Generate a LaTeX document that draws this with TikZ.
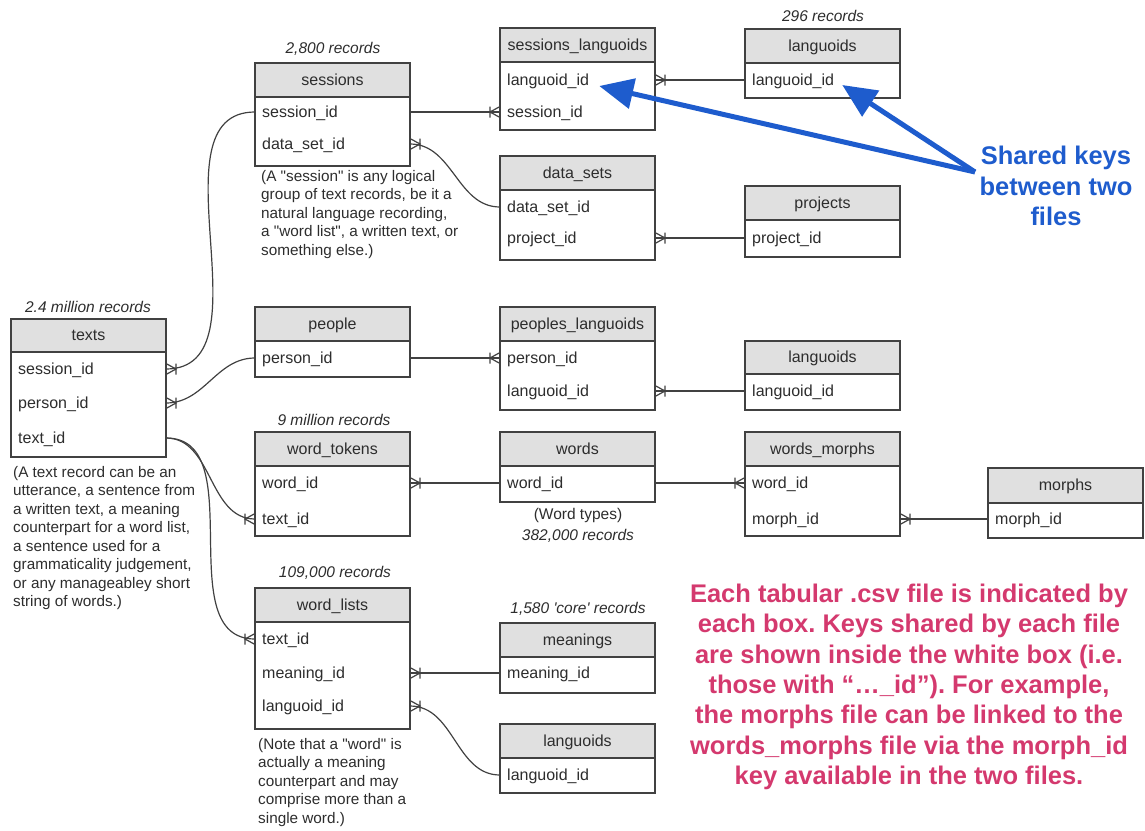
\documentclass[tikz,border=0pt]{standalone}
\usepackage{fontspec}
\setmainfont{Liberation Sans}
\usetikzlibrary{arrows.meta}

\definecolor{hdrgray}{RGB}{224,224,224}
\definecolor{edgecol}{RGB}{65,65,65}
\definecolor{txtcol}{RGB}{45,45,45}
\definecolor{pinktxt}{RGB}{212,57,110}
\definecolor{bluearr}{RGB}{30,92,205}

\pgfdeclarearrow{
  name = Crow,
  defaults = {length = 10pt, width = 11pt, line width = 0pt 1},
  parameters = {\the\pgfarrowlength,\the\pgfarrowwidth,\the\pgfarrowlinewidth},
  setup code = {
    \pgfarrowssettipend{0pt}
    \pgfarrowssetlineend{0pt}
    \pgfarrowssetbackend{-\pgfarrowlength}
    \pgfarrowshullpoint{0pt}{.5\pgfarrowwidth}
    \pgfarrowshullpoint{0pt}{-.5\pgfarrowwidth}
    \pgfarrowshullpoint{-\pgfarrowlength}{.5\pgfarrowwidth}
    \pgfarrowshullpoint{-\pgfarrowlength}{-.5\pgfarrowwidth}
    \pgfarrowssavethe\pgfarrowlength
    \pgfarrowssavethe\pgfarrowwidth
    \pgfarrowssavethe\pgfarrowlinewidth
  },
  drawing code = {
    \pgfsetdash{}{+0pt}
    \pgfsetlinewidth{\pgfarrowlinewidth}
    \pgfpathmoveto{\pgfqpoint{0pt}{.5\pgfarrowwidth}}
    \pgfpathlineto{\pgfqpoint{-\pgfarrowlength}{0pt}}
    \pgfpathlineto{\pgfqpoint{0pt}{-.5\pgfarrowwidth}}
    \pgfpathmoveto{\pgfqpoint{-\pgfarrowlength}{.5\pgfarrowwidth}}
    \pgfpathlineto{\pgfqpoint{-\pgfarrowlength}{-.5\pgfarrowwidth}}
    \pgfusepathqstroke
  }
}

\frenchspacing
\newcommand{\fsz}{\fontsize{16}{18.5}\selectfont}
\newcommand{\fsn}{\fontsize{15.3}{18.5}\selectfont}
\newcommand{\fsr}{\fontsize{15.5}{18.5}\selectfont}
% table: name, x, ytop, header height, body height, title
\newcommand{\tbl}[6]{%
  \node[hdr,minimum height=#4pt,anchor=north west] (#1h) at (#2,#3) {#6};
  \node[bodybox,minimum height=#5pt,anchor=north west] (#1) at (#1h.south west) {};
}
% field: name, x, y, text
\newcommand{\fld}[4]{\node[fldstyle,anchor=west] (#1) at (#2,#3) {#4};}

\begin{document}
\begin{tikzpicture}[x=1pt,y=-1pt,
  hdr/.style={draw=edgecol, fill=hdrgray, line width=1.1pt, minimum width=155pt,
    inner sep=0pt, outer sep=0pt, font=\fsz, text=txtcol, text height=13pt, text depth=3pt},
  bodybox/.style={draw=edgecol, fill=white, line width=1.1pt, minimum width=155pt,
    inner sep=0pt, outer sep=0pt},
  fldstyle/.style={font=\fsz, text=txtcol, inner sep=0pt, text height=13pt, text depth=3pt},
  rec/.style={font=\fsr\itshape, text=txtcol, inner sep=0pt},
  note/.style={font=\fsn, text=txtcol, align=left, inner sep=0pt, anchor=north west},
  link/.style={draw=edgecol, line width=1.2pt, -{Crow}},
  bluelink/.style={draw=bluearr, line width=5pt, -{Triangle[length=34pt,width=30pt]}},
]
\useasboundingbox (0,0) rectangle (1145,830);

% ---------- tables ----------
\tbl{ses}{255}{63}{34}{69}{sessions}
\fld{ses-sid}{262}{112}{session\_id}
\fld{ses-dsid}{262}{144}{data\_set\_id}

\tbl{sl}{500}{28}{34}{68}{sessions\_languoids}
\fld{sl-lid}{507}{80}{languoid\_id}
\fld{sl-sid}{507}{112}{session\_id}

\tbl{la}{745}{29}{34}{35}{languoids}
\fld{la-lid}{752}{80}{languoid\_id}

\tbl{ds}{500}{156}{34}{70}{data\_sets}
\fld{ds-dsid}{507}{207}{data\_set\_id}
\fld{ds-pid}{507}{238}{project\_id}

\tbl{pr}{745}{186}{34}{37}{projects}
\fld{pr-pid}{752}{238}{project\_id}

\tbl{tx}{11}{319}{33}{105}{texts}
\fld{tx-sid}{18}{369}{session\_id}
\fld{tx-pid}{18}{403}{person\_id}
\fld{tx-tid}{18}{438}{text\_id}

\tbl{pe}{255}{307}{34}{36}{people}
\fld{pe-pid}{262}{358}{person\_id}

\tbl{pl}{500}{307}{34}{69}{peoples\_languoids}
\fld{pl-pid}{507}{358}{person\_id}
\fld{pl-lid}{507}{391}{languoid\_id}

\tbl{lb}{745}{341}{33}{36}{languoids}
\fld{lb-lid}{752}{391}{languoid\_id}

\tbl{wt}{255}{432}{34}{70}{word\_tokens}
\fld{wt-wid}{262}{483}{word\_id}
\fld{wt-tid}{262}{519}{text\_id}

\tbl{wd}{500}{432}{34}{36}{words}
\fld{wd-wid}{507}{483}{word\_id}

\tbl{wm}{745}{432}{34}{70}{words\_morphs}
\fld{wm-wid}{752}{483}{word\_id}
\fld{wm-mid}{752}{519}{morph\_id}

\tbl{mo}{988}{468}{35}{35}{morphs}
\fld{mo-mid}{995}{519}{morph\_id}

\tbl{wl}{255}{588}{34}{107}{word\_lists}
\fld{wl-tid}{262}{639}{text\_id}
\fld{wl-mid}{262}{673}{meaning\_id}
\fld{wl-lid}{262}{706}{languoid\_id}

\tbl{mn}{500}{623}{34}{36}{meanings}
\fld{mn-mid}{507}{673}{meaning\_id}

\tbl{lc}{500}{724}{34}{35}{languoids}
\fld{lc-lid}{507}{775}{languoid\_id}

% ---------- record counts ----------
\node[rec] (r-ses) at (333,49) {2,800 records};
\node[rec] (r-la) at (823,16) {296 records};
\node[rec] (r-tx) at (88,307) {2.4 million records};
\node[rec] (r-wt) at (334,420) {9 million records};
\node[rec] (r-wl) at (335,573) {109,000 records};
\node[rec] (r-mn) at (578,609) {1,580 \textquotesingle core\textquotesingle\ records};
\node[font=\fsr, text=txtcol, inner sep=0pt] (wtypes) at (578,515) {(Word types)};
\node[rec] (r-wd) at (578,536) {382,000 records};

% ---------- notes ----------
\node[note] (n-ses) at (261,170) {(A \textquotedbl session\textquotedbl\ is any logical\\group of text records, be it a\\natural language recording,\\a \textquotedbl word list\textquotedbl, a written text, or\\something else.)};
\node[note] (n-tx) at (13,466) {(A text record can be an\\utterance, a sentence from\\a written text, a meaning\\counterpart for a word list,\\a sentence used for a\\grammaticality judgement,\\or any manageabley short\\string of words.)};
\node[note] (n-wl) at (258,738) {(Note that a \textquotedbl word\textquotedbl\ is\\actually a meaning\\counterpart and may\\comprise more than a\\single word.)};

% ---------- connectors (crow's foot at the "many" end) ----------
\draw[link] (ses-sid -| ses.east) -- (sl-sid -| sl.west);
\draw[link] (la-lid -| la.west) -- (sl-lid -| sl.east);
\draw[link] (ds-dsid -| ds.west) to[out=180,in=0] (ses-dsid -| ses.east);
\draw[link] (pr-pid -| pr.west) -- (ds-pid -| ds.east);
\draw[link] (ses-sid -| ses.west) to[out=180,in=0] (tx-sid -| tx.east);
\draw[link] (pe-pid -| pe.west) to[out=180,in=0] (tx-pid -| tx.east);
\draw[link] (pe-pid -| pe.east) -- (pl-pid -| pl.west);
\draw[link] (lb-lid -| lb.west) -- (pl-lid -| pl.east);
\draw[link] (tx-tid -| tx.east) to[out=0,in=180] (wt-tid -| wt.west);
\draw[link] (tx-tid -| tx.east) to[out=0,in=180] (wl-tid -| wl.west);
\draw[link] (wd-wid -| wd.west) -- (wt-wid -| wt.east);
\draw[link] (wd-wid -| wd.east) -- (wm-wid -| wm.west);
\draw[link] (mo-mid -| mo.west) -- (wm-mid -| wm.east);
\draw[link] (mn-mid -| mn.west) -- (wl-mid -| wl.east);
\draw[link] (lc-lid -| lc.west) to[out=180,in=0] (wl-lid -| wl.east);

% ---------- annotations ----------
\node[font=\fontsize{25.5}{30.5}\selectfont\bfseries, text=bluearr, align=center,
  inner sep=0pt, anchor=north] (shared) at (1056,146) {Shared keys\\between two\\files};
\coordinate (sk) at (975,172);
\draw[bluelink] (sk) -- ([xshift=10pt,yshift=-6pt]sl-lid.east);
\draw[bluelink] (sk) -- ([xshift=8pt,yshift=-5pt]la-lid.east);

\node[font=\fontsize{25.5}{30.3}\selectfont\bfseries, text=pinktxt, align=center,
  inner sep=0pt, anchor=north] (expl) at (909,584) {Each tabular .csv file is indicated by\\each box. Keys shared by each file\\are shown inside the white box (i.e.\\those with “…\_id”). For example,\\the morphs file can be linked to the\\words\_morphs file via the morph\_id\\key available in the two files.};
\end{tikzpicture}
\end{document}
